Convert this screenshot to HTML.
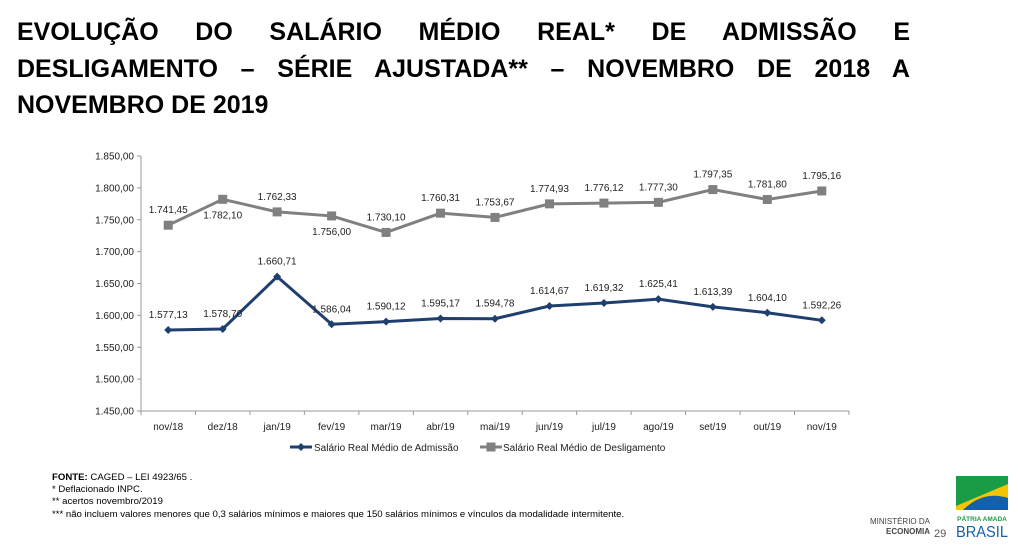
<!DOCTYPE html>
<html><head><meta charset="utf-8"><style>
body{margin:0;width:1018px;height:547px;background:#fff;overflow:hidden;font-family:"Liberation Sans",sans-serif;position:relative}
#title{position:absolute;left:17px;top:14px;width:893px;font-weight:bold;font-size:25px;line-height:36.5px;text-align:justify;text-align-last:left;color:#000;margin:0}
.fn{position:absolute;left:52px;font-size:9.6px;color:#000;white-space:nowrap}
</style></head><body>
<h1 id="title">EVOLUÇÃO DO SALÁRIO MÉDIO REAL* DE ADMISSÃO E DESLIGAMENTO – SÉRIE AJUSTADA** – NOVEMBRO DE 2018 A NOVEMBRO DE 2019</h1>
<svg id="chart" width="1018" height="547" style="position:absolute;left:0;top:0" font-family="Liberation Sans, sans-serif"></svg>
<div class="fn" style="top:472px"><b>FONTE:</b> CAGED – LEI 4923/65 .</div>
<div class="fn" style="top:484px">* Deflacionado INPC.</div>
<div class="fn" style="top:496px">** acertos novembro/2019</div>
<div class="fn" style="top:509px">*** não incluem valores menores que 0,3 salários mínimos e maiores que 150 salários mínimos e vínculos da modalidade intermitente.</div>
<div style="position:absolute;left:860px;top:517px;font-size:8px;color:#444;text-align:right;width:70px;line-height:10px">MINISTÉRIO DA<br><b>ECONOMIA</b></div>
<div style="position:absolute;left:934px;top:528px;font-size:11px;color:#555">29</div>
<div style="position:absolute;left:953px;top:476px;width:60px;height:67px">
<svg width="60" height="67"><rect x="3" y="0" width="52" height="34" fill="#1a9b45"/><polygon points="3,30 55,8 55,34 3,34" fill="#f5c400"/><path d="M10 34 Q30 14 55 22 L55 34Z" fill="#1560a8"/>
<text x="29" y="45" font-size="6.5" fill="#1a9b45" text-anchor="middle" font-weight="bold">PÁTRIA AMADA</text>
<text x="29" y="61" font-size="16" fill="#1560a8" text-anchor="middle" textLength="52" lengthAdjust="spacingAndGlyphs">BRASIL</text></svg></div>
<script>
const categories=["nov/18","dez/18","jan/19","fev/19","mar/19","abr/19","mai/19","jun/19","jul/19","ago/19","set/19","out/19","nov/19"];
const admissao=[1577.13,1578.70,1660.71,1586.04,1590.12,1595.17,1594.78,1614.67,1619.32,1625.41,1613.39,1604.10,1592.26];
const desligamento=[1741.45,1782.10,1762.33,1756.00,1730.10,1760.31,1753.67,1774.93,1776.12,1777.30,1797.35,1781.80,1795.16];
const admLabels=["1.577,13","1.578,70","1.660,71","1.586,04","1.590,12","1.595,17","1.594,78","1.614,67","1.619,32","1.625,41","1.613,39","1.604,10","1.592,26"];
const desLabels=["1.741,45","1.782,10","1.762,33","1.756,00","1.730,10","1.760,31","1.753,67","1.774,93","1.776,12","1.777,30","1.797,35","1.781,80","1.795,16"];
const desBelow=[false,true,false,true,false,false,false,false,false,false,false,false,false];
const yTicks=[1450,1500,1550,1600,1650,1700,1750,1800,1850];
const yTickLabels=["1.450,00","1.500,00","1.550,00","1.600,00","1.650,00","1.700,00","1.750,00","1.800,00","1.850,00"];

const svg=document.getElementById('chart');const NS='http://www.w3.org/2000/svg';
const x0=141,x1=849,yTop=156,yBot=411,vmin=1450,vmax=1850;
const band=(x1-x0)/categories.length;
const X=i=>x0+band*(i+0.5);
const Y=v=>yBot-(v-vmin)/(vmax-vmin)*(yBot-yTop);
function el(t,a,txt){const e=document.createElementNS(NS,t);for(const k in a)e.setAttribute(k,a[k]);if(txt!=null)e.textContent=txt;svg.appendChild(e);return e;}
let e=el('line',{x1:x0,y1:yTop,x2:x0,y2:yBot,stroke:'#999'});

e=el('line',{x1:x0,y1:yBot,x2:x1,y2:yBot,stroke:'#999'});

yTicks.forEach((v,i)=>{
 el('line',{x1:x0-4,y1:Y(v),x2:x0,y2:Y(v),stroke:'#999'});
 const t=el('text',{x:x0-7,y:Y(v)+3.5,'font-size':10,'text-anchor':'end',fill:'#222'},yTickLabels[i]);
 
});
for(let i=0;i<=categories.length;i++)el('line',{x1:x0+band*i,y1:yBot,x2:x0+band*i,y2:yBot+4,stroke:'#999'});
categories.forEach((c,i)=>{const t=el('text',{x:X(i),y:yBot+19,'font-size':10,'text-anchor':'middle',fill:'#222'},c);
 });
function series(vals,color,name,marker){
 const p=el('polyline',{points:vals.map((v,i)=>X(i)+','+Y(v)).join(' '),fill:'none',stroke:color,'stroke-width':3});
 
 vals.forEach((v,i)=>{let m;
  if(marker==='sq')m=el('rect',{x:X(i)-4.5,y:Y(v)-4.5,width:9,height:9,fill:color});
  else m=el('polygon',{points:`${X(i)},${Y(v)-4} ${X(i)+4},${Y(v)} ${X(i)},${Y(v)+4} ${X(i)-4},${Y(v)}`,fill:color});
  });
}
series(desligamento,'#808080','desligamento','sq');
series(admissao,'#1f3f6e','admissao','dia');
admissao.forEach((v,i)=>{const t=el('text',{x:X(i),y:Y(v)-12,'font-size':10,'text-anchor':'middle',fill:'#222'},admLabels[i]);
 });
desligamento.forEach((v,i)=>{const t=el('text',{x:X(i),y:desBelow[i]?Y(v)+19:Y(v)-12,'font-size':10,'text-anchor':'middle',fill:'#222'},desLabels[i]);
 });
let g=el('line',{x1:290,y1:447,x2:312,y2:447,stroke:'#1f3f6e','stroke-width':3});

el('polygon',{points:'301,443 305,447 301,451 297,447',fill:'#1f3f6e'});
g=el('text',{x:314,y:451,'font-size':10,fill:'#222'},'Salário Real Médio de Admissão');

g=el('line',{x1:480,y1:447,x2:502,y2:447,stroke:'#808080','stroke-width':3});

el('rect',{x:486.5,y:442.5,width:9,height:9,fill:'#808080'});
g=el('text',{x:503,y:451,'font-size':10,fill:'#222'},'Salário Real Médio de Desligamento');

</script>
</body></html>
